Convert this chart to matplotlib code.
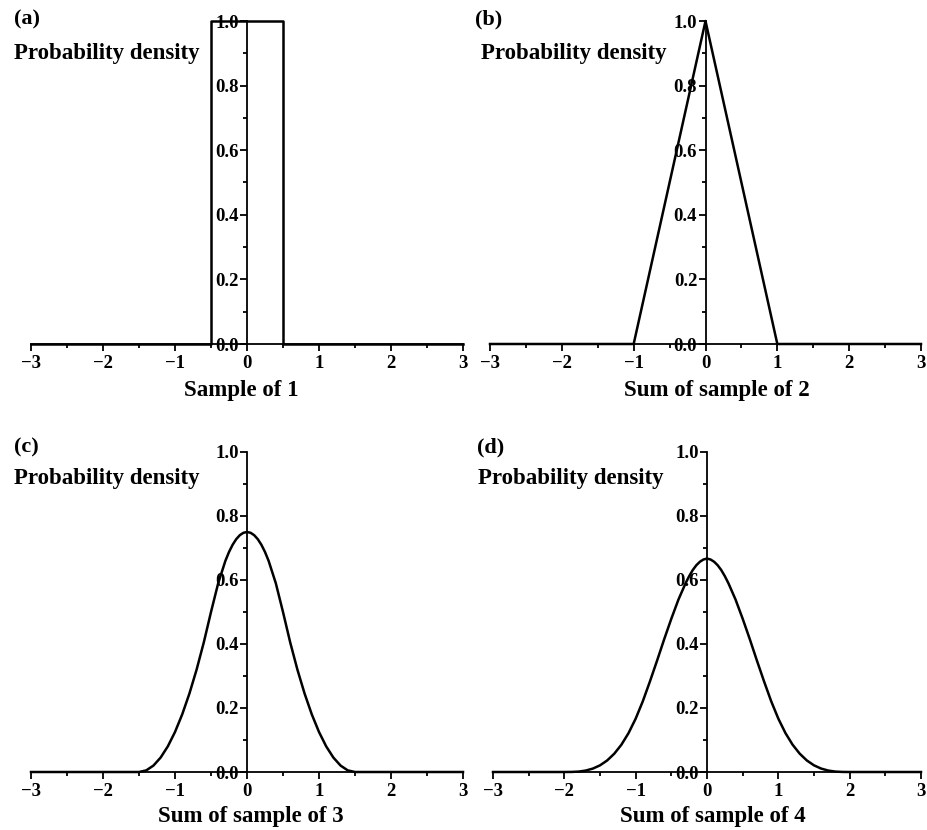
import matplotlib
matplotlib.use("Agg")
import matplotlib.pyplot as plt
from matplotlib.ticker import MultipleLocator

plt.rcParams['font.family'] = ['Liberation Serif', 'DejaVu Serif']
plt.rcParams['font.weight'] = 'bold'

# ---- data ----
xa = [-3, -0.5, -0.5, 0.5, 0.5, 3]
ya = [0, 0, 1.0, 1.0, 0, 0]

xb = [-3, -1, 0, 1, 3]
yb = [0, 0, 1.0, 0, 0]

xc = [-3, -1.5, -1.4, -1.3, -1.2, -1.1, -1.0, -0.9, -0.8, -0.7, -0.6, -0.5, -0.4, -0.3, -0.25, -0.2,
      -0.15, -0.1, -0.05, 0.0, 0.05, 0.1, 0.15, 0.2, 0.25, 0.3, 0.4, 0.5, 0.6, 0.7, 0.8, 0.9, 1.0,
      1.1, 1.2, 1.3, 1.4, 1.5, 3]
yc = [0, 0, 0.005, 0.02, 0.045, 0.08, 0.125, 0.18, 0.245, 0.32, 0.405, 0.5, 0.59, 0.66, 0.6875, 0.71,
      0.7275, 0.74, 0.7475, 0.75, 0.7475, 0.74, 0.7275, 0.71, 0.6875, 0.66, 0.59, 0.5, 0.405, 0.32,
      0.245, 0.18, 0.125, 0.08, 0.045, 0.02, 0.005, 0, 0]

xd = [-3, -2.0, -1.9, -1.8, -1.7, -1.6, -1.5, -1.4, -1.3, -1.2, -1.1, -1.0, -0.9, -0.8, -0.7, -0.6,
      -0.5, -0.4, -0.3, -0.25, -0.2, -0.15, -0.1, -0.05, 0.0, 0.05, 0.1, 0.15, 0.2, 0.25, 0.3, 0.4,
      0.5, 0.6, 0.7, 0.8, 0.9, 1.0, 1.1, 1.2, 1.3, 1.4, 1.5, 1.6, 1.7, 1.8, 1.9, 2.0, 3]
yd = [0, 0, 0.0002, 0.0013, 0.0045, 0.0107, 0.0208, 0.036, 0.0572, 0.0853, 0.1215, 0.1667, 0.221,
      0.283, 0.348, 0.415, 0.479, 0.539, 0.590, 0.612, 0.631, 0.646, 0.657, 0.664, 0.667, 0.664,
      0.657, 0.646, 0.631, 0.612, 0.590, 0.539, 0.479, 0.415, 0.348, 0.283, 0.221, 0.1667, 0.1215,
      0.0853, 0.0572, 0.036, 0.0208, 0.0107, 0.0045, 0.0013, 0.0002, 0, 0]

panel_labels = ['(a)', '(b)', '(c)', '(d)']
xlabels = ['Sample of 1', 'Sum of sample of 2', 'Sum of sample of 3', 'Sum of sample of 4']
ylabel = 'Probability density'
xticks = [-3, -2, -1, 0, 1, 2, 3]
yticks = [0.0, 0.2, 0.4, 0.6, 0.8, 1.0]

W, H = 928, 830
fig = plt.figure(figsize=(W / 100, H / 100), dpi=100)

def px(x0, y0, x1, y1):
    return [x0 / W, 1 - y1 / H, (x1 - x0) / W, (y1 - y0) / H]

rects = [px(31, 21, 463, 344), px(490, 21, 921, 344),
         px(31, 452, 463, 772), px(493, 452, 921, 772)]
series = [(xa, ya), (xb, yb), (xc, yc), (xd, yd)]

# label positions (pixels)
plab = [(14, 19), (475, 19), (14, 447), (477, 447)]
ylab = [(14, 53), (481, 53), (14, 478), (478, 478)]
xlab = [(241, 390), (717, 390), (251, 816), (713, 816)]

for i, r in enumerate(rects):
    ax = fig.add_axes(r)
    x, y = series[i]
    ax.plot(x, y, color='black', lw=1.8, clip_on=False, solid_joinstyle='round')
    ax.set_xlim(-3, 3)
    ax.set_ylim(0, 1)
    ax.spines['left'].set_position(('data', 0))
    ax.spines['top'].set_visible(False)
    ax.spines['right'].set_visible(False)
    for s in ('left', 'bottom'):
        ax.spines[s].set_linewidth(1.3)
    ax.set_xticks(xticks)
    ax.set_xticklabels(['\u22123', '\u22122', '\u22121', '0', '1', '2', '3'])
    ax.set_yticks(yticks)
    ax.set_yticklabels(['%.1f' % v for v in yticks])
    ax.xaxis.set_minor_locator(MultipleLocator(0.5))
    ax.yaxis.set_minor_locator(MultipleLocator(0.1))
    ax.tick_params(axis='both', which='major', direction='out', length=5, width=1.3,
                   labelsize=13.5, pad=3)
    ax.tick_params(axis='both', which='minor', direction='out', length=3, width=1.3)
    ax.tick_params(axis='y', which='major', pad=1)
    ax.patch.set_visible(False)

    fig.text(plab[i][0] / W, 1 - plab[i][1] / H, panel_labels[i], fontsize=16,
             fontweight='bold', ha='left', va='center')
    fig.text(ylab[i][0] / W, 1 - ylab[i][1] / H, ylabel, fontsize=16.5,
             fontweight='bold', ha='left', va='center')
    fig.text(xlab[i][0] / W, 1 - xlab[i][1] / H, xlabels[i], fontsize=16.5,
             fontweight='bold', ha='center', va='center')

fig.savefig('out.png', dpi=100)
